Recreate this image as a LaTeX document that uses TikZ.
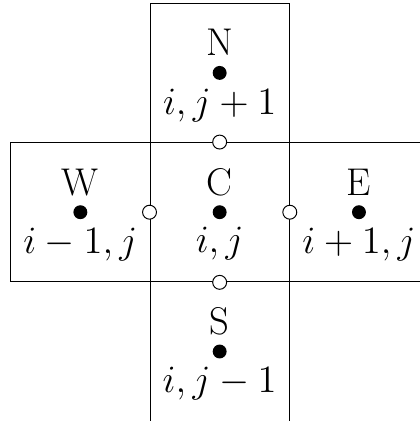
\RequirePackage{fix-cm}
\documentclass[tikz,border=0pt]{standalone}
\begin{document}
\begin{tikzpicture}[
  cell/.style={draw, minimum size=2cm, inner sep=0pt, line width=0.4pt},
  dot/.style={circle, fill=black, minimum size=0.2cm, inner sep=0pt},
  face/.style={circle, draw, fill=white, minimum size=0.2cm, inner sep=0pt, line width=0.4pt},
  txt/.style={font=\fontsize{15.8}{18}\selectfont, anchor=base, inner sep=0pt}
]
\useasboundingbox (-3.154,-2.998) rectangle (2.876,3.047);
\node[cell] (C) at (0,0) {};
\node[cell] (N) at (0,2) {};
\node[cell] (S) at (0,-2) {};
\node[cell] (W) at (-2,0) {};
\node[cell] (E) at (2,0) {};
\foreach \n in {C,N,S,W,E} \node[dot] (d\n) at (\n.center) {};
\node[txt] (tC) at ([yshift=0.244cm]dC.center) {C};
\node[txt] (tN) at ([yshift=0.244cm]dN.center) {N};
\node[txt] (tS) at ([yshift=0.244cm]dS.center) {S};
\node[txt] (tW) at ([yshift=0.244cm]dW.center) {W};
\node[txt] (tE) at ([yshift=0.244cm]dE.center) {E};
\node[txt] (lC) at ([yshift=-0.58cm]dC.center) {$i,j$};
\node[txt] (lN) at ([yshift=-0.6cm]dN.center) {$i,j+1$};
\node[txt] (lS) at ([yshift=-0.59cm]dS.center) {$i,j-1$};
\node[txt] (lW) at ([yshift=-0.589cm]dW.center) {$i-1,j$};
\node[txt] (lE) at ([yshift=-0.589cm]dE.center) {$i+1,j$};
\node[face] (fN) at (C.north) {};
\node[face] (fS) at (C.south) {};
\node[face] (fW) at (C.west) {};
\node[face] (fE) at (C.east) {};
\end{tikzpicture}
\end{document}
